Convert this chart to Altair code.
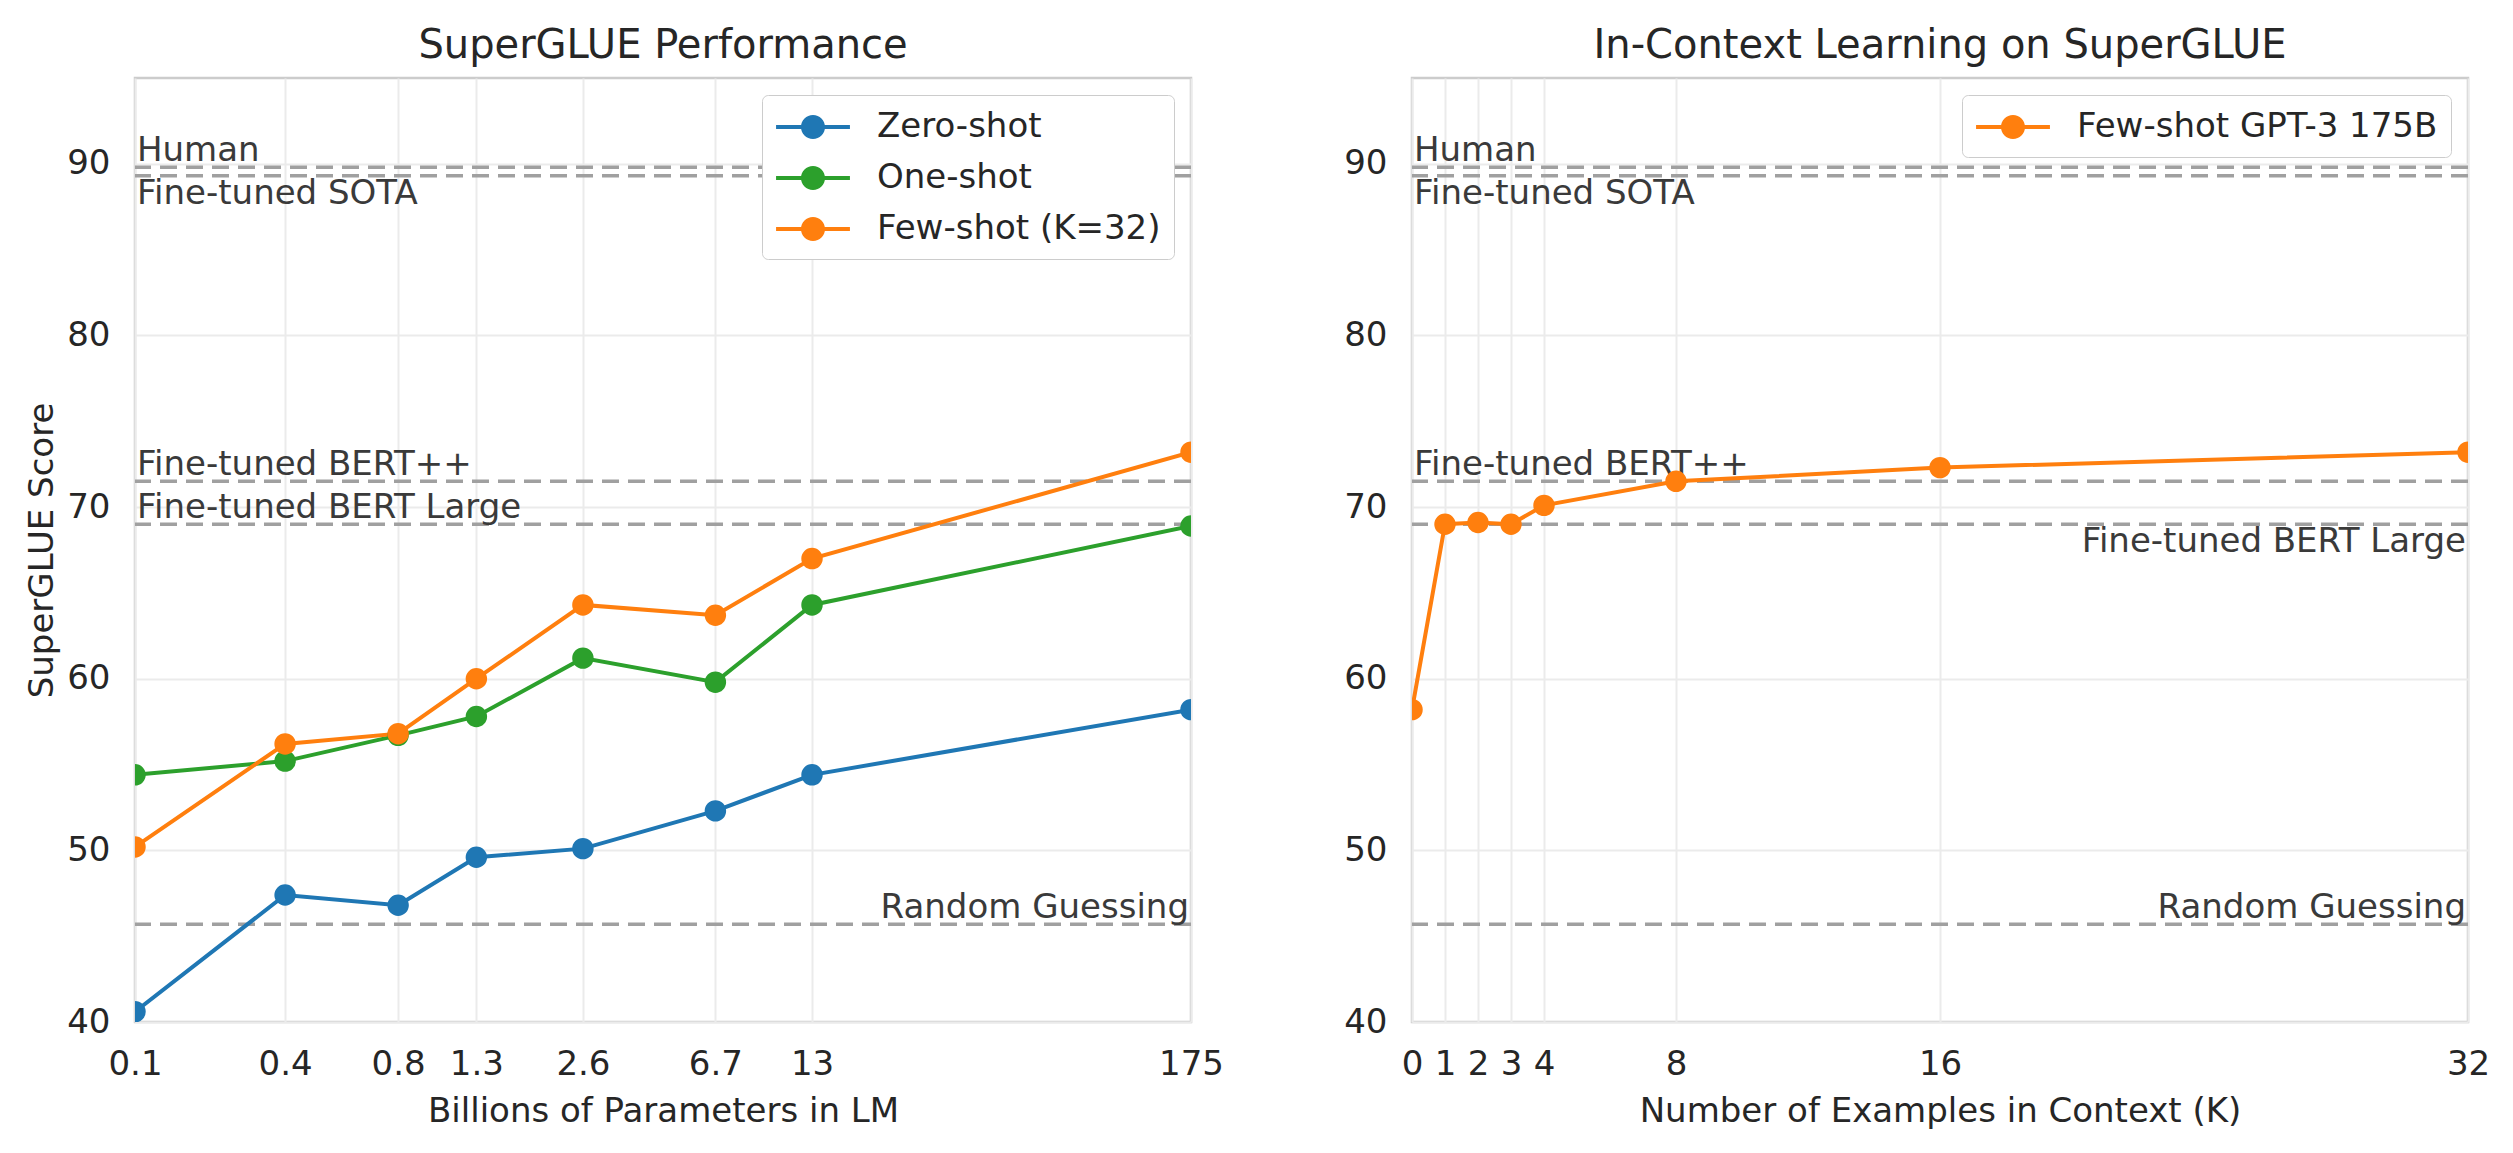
import altair as alt
import pandas as pd

# ---------------- data ----------------
params = [0.125, 0.35, 0.76, 1.3, 2.7, 6.7, 13, 175]
param_labels = ["0.1", "0.4", "0.8", "1.3", "2.6", "6.7", "13", "175"]
zero_shot = [40.6, 47.4, 46.8, 49.6, 50.1, 52.3, 54.4, 58.2]
one_shot = [54.4, 55.2, 56.7, 57.8, 61.2, 59.8, 64.3, 68.9]
few_shot = [50.2, 56.2, 56.8, 60.0, 64.3, 63.7, 67.0, 73.2]
series_names = ["Zero-shot", "One-shot", "Few-shot (K=32)"]
series_colors = ["#1f77b4", "#2ca02c", "#ff7f0e"]

k_values = [0, 1, 2, 3, 4, 8, 16, 32]
k_scores = [58.2, 69.0, 69.1, 69.0, 70.1, 71.5, 72.3, 73.2]
k_name = "Few-shot GPT-3 175B"
k_color = "#ff7f0e"

ref_names = ["Human", "Fine-tuned SOTA", "Fine-tuned BERT++",
             "Fine-tuned BERT Large", "Random Guessing"]
ref_values = [89.8, 89.3, 71.5, 69.0, 45.7]
left_side = ["left", "left", "left", "left", "right"]
left_pos = ["above", "below", "above", "above", "above"]
right_side = ["left", "left", "left", "right", "right"]
right_pos = ["above", "below", "above", "below", "above"]

y_ticks = [40, 50, 60, 70, 80, 90]
y_domain = [40, 95]

FONT = "DejaVu Sans"
TEXT_COLOR = "#3a3a3a"
REF_COLOR = "#a0a0a0"

LEG_SYMBOL = ("M-1.97,-0.107H1.97V0.107H-1.97Z "
              "M0.64,0A0.64,0.64,0,1,1,-0.64,0A0.64,0.64,0,1,1,0.64,0Z")


def legend_full():
    return alt.Legend(
        title=None, orient="top-right", offset=17,
        symbolType=LEG_SYMBOL, symbolSize=1406, symbolOffset=19,
        symbolStrokeWidth=0, labelOffset=45,
        labelFontSize=34, labelFont=FONT, labelColor="#262626", labelLimit=0,
        rowPadding=15, padding=13, fillColor="white",
        strokeColor="#cccccc", cornerRadius=6,
    )


def ref_layers(sides, poss, xmin, xmax, X, Y):
    df = pd.DataFrame({"name": ref_names, "y": ref_values,
                       "side": sides, "pos": poss})
    df["x"] = [xmin if s == "left" else xmax for s in sides]
    layers = [alt.Chart(df).mark_rule(color=REF_COLOR, strokeWidth=3.5,
                                      strokeDash=[17, 9]).encode(y=Y)]
    for side in ["left", "right"]:
        for pos in ["above", "below"]:
            sub = df[(df.side == side) & (df.pos == pos)]
            if len(sub) == 0:
                continue
            layers.append(
                alt.Chart(sub).mark_text(
                    align=side, baseline="alphabetic",
                    dx=2 if side == "left" else -2,
                    dy=-6 if pos == "above" else 28,
                    fontSize=34, font=FONT, color=TEXT_COLOR,
                ).encode(x=X, y=Y, text="name:N")
            )
    return layers


def line_layers(df, names, colors, X, Y):
    return [
        alt.Chart(df[df.series == n]).mark_line(strokeWidth=4, clip=True, color=c)
        .encode(x=X, y=Y)
        for n, c in zip(names, colors)
    ]


# ---------------- left panel ----------------
rows = []
for name, vals in zip(series_names, [zero_shot, one_shot, few_shot]):
    for p, v in zip(params, vals):
        rows.append({"x": p, "y": v, "series": name})
left_df = pd.DataFrame(rows)

label_expr = "{}[indexof({}, datum.value)]".format(
    "[" + ",".join("'" + s + "'" for s in param_labels) + "]",
    "[" + ",".join(str(p) for p in params) + "]",
)

XL = alt.X("x:Q",
           scale=alt.Scale(type="log", domain=[params[0], params[-1]], nice=False),
           axis=alt.Axis(values=params, labelExpr=label_expr,
                         title="Billions of Parameters in LM"))
YL = alt.Y("y:Q", scale=alt.Scale(domain=y_domain, nice=False, zero=False),
           axis=alt.Axis(values=y_ticks, title="SuperGLUE Score", titlePadding=7))

left_points = alt.Chart(left_df).mark_circle(size=460, opacity=1, clip=True).encode(
    x=XL, y=YL,
    color=alt.Color("series:N", scale=alt.Scale(domain=series_names, range=series_colors),
                    legend=legend_full()))

left = alt.layer(
    *ref_layers(left_side, left_pos, params[0], params[-1], XL, YL),
    *line_layers(left_df, series_names, series_colors, XL, YL),
    left_points,
).properties(width=1056, height=944, title="SuperGLUE Performance")

# ---------------- right panel ----------------
right_df = pd.DataFrame({"x": k_values, "y": k_scores, "series": [k_name] * len(k_values)})

XR = alt.X("x:Q", scale=alt.Scale(domain=[k_values[0], k_values[-1]], nice=False, zero=False),
           axis=alt.Axis(values=k_values, title="Number of Examples in Context (K)"))
YR = alt.Y("y:Q", scale=alt.Scale(domain=y_domain, nice=False, zero=False),
           axis=alt.Axis(values=y_ticks, title=None))

right_points = alt.Chart(right_df).mark_circle(size=460, opacity=1, clip=True).encode(
    x=XR, y=YR,
    color=alt.Color("series:N", scale=alt.Scale(domain=[k_name], range=[k_color]),
                    legend=legend_full()))

right = alt.layer(
    *ref_layers(right_side, right_pos, k_values[0], k_values[-1], XR, YR),
    *line_layers(right_df, [k_name], [k_color], XR, YR),
    right_points,
).properties(width=1056, height=944, title="In-Context Learning on SuperGLUE")

chart = alt.hconcat(left, right, spacing=117).resolve_scale(
    color="independent", x="independent", y="independent"
).resolve_legend(
    color="independent"
).properties(
    padding={"left": 16, "top": 16, "right": 5, "bottom": 5}
).configure_view(
    stroke="#cccccc", strokeWidth=2.5
).configure_axis(
    domain=False, ticks=False, tickSize=0, grid=True,
    gridColor="#ebebeb", gridWidth=2,
    labelFont=FONT, labelFontSize=34, labelColor="#262626",
    titleFont=FONT, titleFontSize=34, titleFontWeight="normal", titleColor="#262626",
    labelPadding=25, labelOverlap=False, labelFlush=False, labelBound=False,
    titlePadding=13,
).configure_title(
    font=FONT, fontSize=40, fontWeight="normal", color="#262626", offset=12
)

chart.save("out.html", embed_options={"renderer": "svg", "actions": False})
